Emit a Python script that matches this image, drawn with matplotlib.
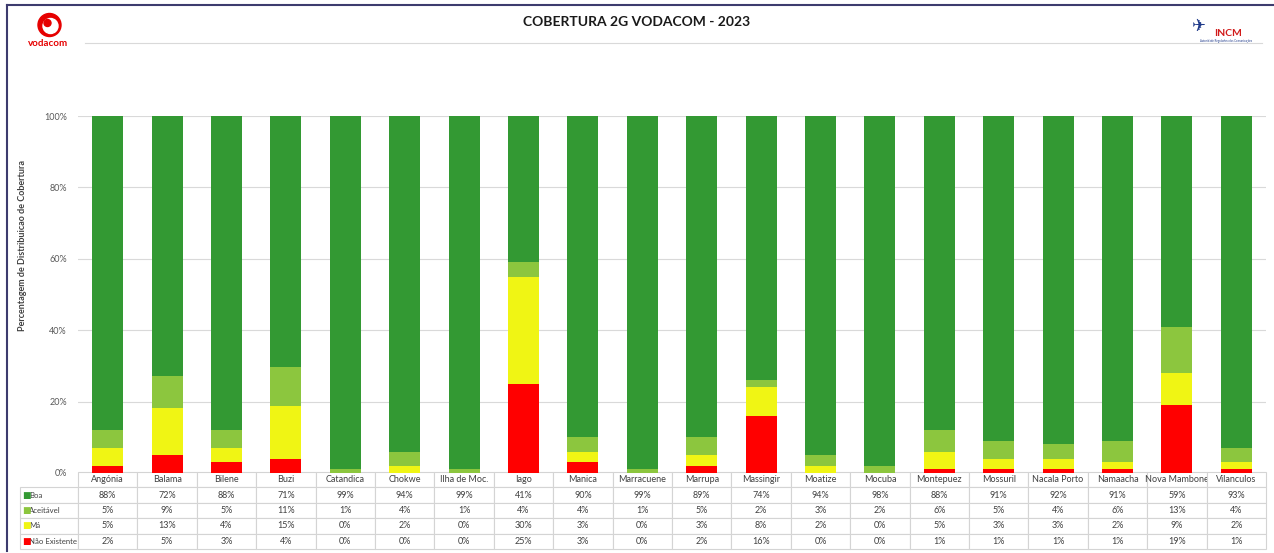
import numpy as np
import matplotlib.pyplot as plt
from matplotlib.patches import Ellipse
from matplotlib.lines import Line2D

plt.rcParams['font.family'] = ['Lato', 'DejaVu Sans']

# data (percentages)
locais = ["Angónia", "Balama", "Bilene", "Buzi", "Catandica", "Chokwe", "Ilha de Moc.",
          "Iago", "Manica", "Marracuene", "Marrupa", "Massingir", "Moatize", "Mocuba",
          "Montepuez", "Mossuril", "Nacala Porto", "Namaacha", "Nova Mambone", "Vilanculos"]
boa = [88, 72, 88, 71, 99, 94, 99, 41, 90, 99, 89, 74, 94, 98, 88, 91, 92, 91, 59, 93]
aceitavel = [5, 9, 5, 11, 1, 4, 1, 4, 4, 1, 5, 2, 3, 2, 6, 5, 4, 6, 13, 4]
ma = [5, 13, 4, 15, 0, 2, 0, 30, 3, 0, 3, 8, 2, 0, 5, 3, 3, 2, 9, 2]
nao_existente = [2, 5, 3, 4, 0, 0, 0, 25, 3, 0, 2, 16, 0, 0, 1, 1, 1, 1, 19, 1]

series = [("Não Existente", nao_existente, "#ff0000"),
          ("Má", ma, "#f0f514"),
          ("Aceitável", aceitavel, "#8cc63e"),
          ("Boa", boa, "#339933")]

W, H = 1274, 553
fig = plt.figure(figsize=(W / 100, H / 100), dpi=100)
ax_l, ax_r, ax_t, ax_b = 78, 1266, 116, 473
ax = fig.add_axes([ax_l / W, 1 - ax_b / H, (ax_r - ax_l) / W, (ax_b - ax_t) / H])

x = np.arange(len(locais))
total = np.sum([np.array(s[1], float) for s in series], axis=0)
bottom = np.zeros(len(locais))
for name, vals, col in series:
    frac = np.array(vals, float) / total
    ax.bar(x, frac, 0.52, bottom=bottom, color=col, edgecolor="none", zorder=3)
    bottom += frac

ax.set_xlim(-0.5, len(locais) - 0.5)
ax.set_ylim(0, 1)
ax.set_yticks(np.arange(0, 1.01, 0.2))
ax.set_yticklabels([f"{int(round(v * 100))}%" for v in np.arange(0, 1.01, 0.2)],
                   fontsize=6.5, color="#595959")
ax.tick_params(axis="y", length=0, pad=8)
ax.set_xticks([])
ax.grid(axis="y", color="#d9d9d9", lw=0.8, zorder=0)
for sp in ax.spines.values():
    sp.set_visible(False)
axw = ax_r - ax_l
axh = ax_b - ax_t
ax.set_ylabel("Percentagem de Distribuicao de Cobertura", fontsize=6.5, fontweight="bold",
              color="#404040")
ax.yaxis.set_label_coords((27 - ax_l) / axw, (ax_b - 245) / axh)

# data table under the bars
rows_order = ["Boa", "Aceitável", "Má", "Não Existente"]
lookup = {s[0]: s for s in series}
cell_text = [[""] + locais]
for r in rows_order:
    cell_text.append([r] + [f"{v}%" for v in lookup[r][1]])
tab_l, tab_t, tab_b = 20, 472, 549
col_w = [58] + [(ax_r - 78) / len(locais)] * len(locais)
tab = ax.table(cellText=cell_text, colWidths=[c / sum(col_w) for c in col_w],
               cellLoc="center",
               bbox=[(tab_l - ax_l) / axw, (ax_b - tab_b) / axh,
                     (ax_r - tab_l) / axw, (tab_b - tab_t) / axh])
tab.auto_set_font_size(False)
tab.set_fontsize(6.5)
for (r, c), cell in tab.get_celld().items():
    cell.set_edgecolor("#d4d4d4")
    cell.set_linewidth(0.8)
    cell.get_text().set_color("#404040")
    if c == 0:
        cell.get_text().set_ha("left")
        cell.get_text().set_fontsize(5.6)
        cell._loc = "left"
        cell.PAD = 9 / 58
    if r == 0 and c == 0:
        cell.visible_edges = ""

row_h = (tab_b - tab_t) / 5
for i, r in enumerate(rows_order):
    py = tab_t + row_h * (i + 1.5)
    ax.text((22 - ax_l) / axw, (ax_b - py) / axh, "■", color=lookup[r][2],
            fontsize=6.5, ha="left", va="center", transform=ax.transAxes,
            family="DejaVu Sans", clip_on=False, zorder=10)

# title and header decoration
fig.text(0.5, 1 - 22 / H, "COBERTURA 2G VODACOM - 2023", ha="center", va="center",
         fontsize=10, fontweight="bold", color="#1a1a1a")
fig.add_artist(Line2D([85 / W, 1262 / W], [1 - 43 / H, 1 - 43 / H], color="#d9d9d9", lw=0.8))
fig.add_artist(Line2D([7 / W, 1274 / W], [1 - 5 / H, 1 - 5 / H], color="#3d3b6e", lw=1.5))
fig.add_artist(Line2D([7 / W, 7 / W], [1 - 5 / H, 1 - 551 / H], color="#3d3b6e", lw=1.5))

# vodacom logo
def fig_ellipse(cx, cy, r, color):
    fig.add_artist(Ellipse((cx / W, 1 - cy / H), 2 * r / W, 2 * r / H, color=color,
                           transform=fig.transFigure))

fig_ellipse(49.5, 25, 11.5, "#e60000")
fig_ellipse(50.5, 26, 7.5, "white")
fig_ellipse(47.5, 23, 3.5, "#e60000")
fig.text(48.5 / W, 1 - 43 / H, "vodacom", color="#e60000", fontsize=7, fontweight="bold",
         ha="center", va="center")

# INCM logo
fig.text(1198 / W, 1 - 26 / H, "✈", color="#1f3a8a", fontsize=12, ha="center", va="center",
         family="DejaVu Sans")
fig.text(1228 / W, 1 - 33 / H, "INCM", color="#d11a1a", fontsize=7.5, fontweight="bold",
         ha="center", va="center")
fig.text(1226 / W, 1 - 41 / H, "Autoridade Reguladora das Comunicações", color="#1f3a8a",
         fontsize=2, ha="center", va="center")

fig.savefig("out.png", dpi=100)
